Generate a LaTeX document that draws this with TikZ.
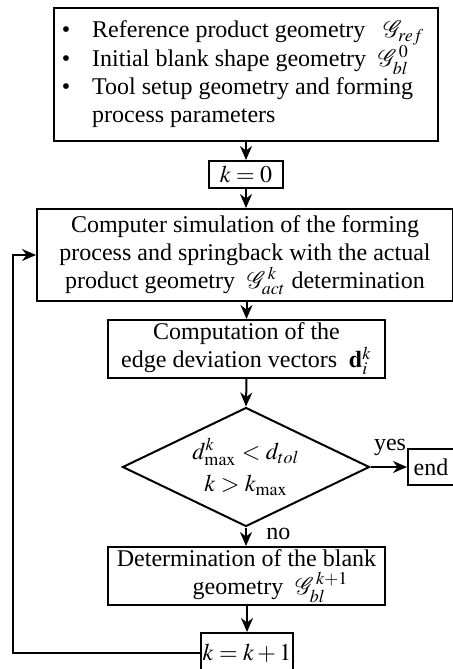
\documentclass[tikz,border=0pt,12pt]{standalone}
\usepackage{mathptmx}
\usepackage{mathrsfs}
\usepackage{fontspec}
\setmainfont{Liberation Serif}
\usetikzlibrary{shapes.geometric,arrows.meta}

\tikzset{
  stepbox/.style={draw, line width=1pt, inner sep=0pt, align=center},
  flow/.style={line width=1pt, -{Stealth[length=7pt,width=6pt]}},
}

\begin{document}
\begin{tikzpicture}[x=0.5pt, y=-0.5pt, font=\fontsize{12}{14}\selectfont]
    \useasboundingbox (0,0) rectangle (453,669);
    % Input data box
    \node[stepbox, anchor=north west, minimum width=192pt, minimum height=66.5pt] (inputs) at (53,7) {
      \begin{tabular}{@{}l@{\hspace{11pt}}l@{}}
        \textbullet & Reference product geometry \ \ $\mathscr{G}_{ref}$\\
        \textbullet & Initial blank shape geometry \ $\mathscr{G}^{\,0}_{bl}$\\
        \textbullet & Tool setup geometry and forming\\
                    & process parameters
      \end{tabular}
    };
    % Counter start
    \node[stepbox, anchor=north west, minimum width=37pt, minimum height=13.5pt] (kzero) at (208,160) {$k=0$};
    % Simulation box
    \node[stepbox, anchor=north west, minimum width=208pt, minimum height=46pt] (sim) at (36,208) {
      Computer simulation of the forming\\
      process and springback with the actual\\
      product geometry \ $\mathscr{G}^{\,k}_{act}$ determination
    };
    % Deviation box
    \node[stepbox, anchor=north west, minimum width=138.5pt, minimum height=29pt] (comp) at (107,319) {
      Computation of the\\
      edge deviation vectors \ $\mathbf{d}^k_i$
    };
    % Decision
    \node[stepbox, shape=diamond, aspect=2.1, minimum width=123.5pt, minimum height=59.5pt] (dec) at (246,467) {
      $d^k_{\max} < d_{tol}$\\[2pt]
      $k > k_{\max}$
    };
    \node[stepbox, anchor=west, minimum width=23pt, minimum height=18pt] (fin) at (407,467) {end};
    \node[anchor=south] (yeslbl) at (390,464) {yes};
    \node[anchor=west] (nolbl) at (258,534) {no};
    % New blank geometry
    \node[stepbox, anchor=north west, minimum width=138.5pt, minimum height=29pt] (det) at (107,546) {
      Determination of the blank\\
      \qquad geometry \ $\mathscr{G}^{\,k+1}_{bl}$
    };
    % Counter increment
    \node[stepbox, anchor=north west, minimum width=46pt, minimum height=20pt] (kinc) at (200,632) {$k=k+1$};
    \coordinate (corner) at (13,0);
    \draw[flow] (inputs.south -| kzero.north) -- (kzero.north);
    \draw[flow] (kzero.south) -- (sim.north -| kzero.south);
    \draw[flow] (sim.south -| comp.north) -- (comp.north);
    \draw[flow] (comp.south) -- (dec.north);
    \draw[flow] (dec.east) -- (fin.west);
    \draw[flow] (dec.south) -- (det.north -| dec.south);
    \draw[flow] (det.south -| kinc.north) -- (kinc.north);
    \draw[flow] (kinc.west) -- (kinc.west -| corner) |- (sim.west);
  \end{tikzpicture}
\end{document}
